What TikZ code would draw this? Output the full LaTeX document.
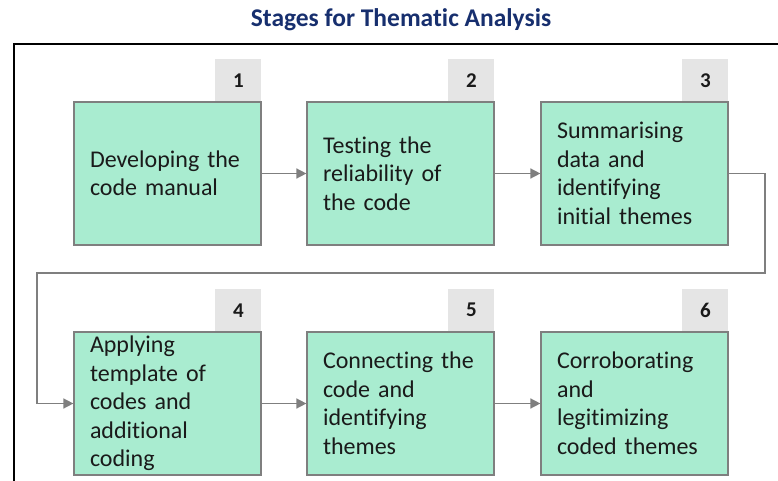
\documentclass[tikz,border=0pt]{standalone}
\usepackage{fontspec}
\setmainfont[Ligatures=CommonOff]{Carlito}
\usetikzlibrary{arrows.meta,positioning}
\definecolor{stagefill}{HTML}{A9ECD0}
\definecolor{stageline}{HTML}{7F7F7F}
\definecolor{tabfill}{HTML}{E5E5E5}
\definecolor{titleblue}{HTML}{172F6E}
\definecolor{stagetext}{HTML}{1A1A1A}
\tikzset{
  stagebox/.style={draw=stageline, line width=1.2pt, fill=stagefill,
    minimum width=187pt, minimum height=143pt, inner xsep=16pt, inner ysep=0pt,
    text width=155pt, align=left, text=stagetext,
    font=\fontsize{24}{28.5}\selectfont},
  stagetab/.style={fill=tabfill, minimum width=46pt, minimum height=42pt,
    inner sep=0pt, font=\fontsize{21}{24}\selectfont\bfseries, text=stagetext,
    anchor=south east},
  flow/.style={draw=stageline, line width=1.5pt,
    -{Triangle[length=10pt,width=10pt]}}
}
\begin{document}
\begin{tikzpicture}[x=1pt,y=-1pt]
\useasboundingbox (0,0) rectangle (778,481);
% title and frame
\node[font=\fontsize{25.5}{28}\selectfont\bfseries, text=titleblue] (title) at (401,20) {Stages for Thematic Analysis};
\draw[line width=1.6pt] (778,44) -- (14,44) -- (14,481);
% stage boxes
\node[stagebox] (b1) at (167.5,173.5) {Developing the\\code manual};
\node[stagebox] (b2) at (400.5,173.5) {Testing the\\reliability of\\the code};
\node[stagebox] (b3) at (634.5,173.5) {Summarising\\data and\\identifying\\initial themes};
\node[stagebox] (b4) at (167.5,403.5) {Applying\\template of\\codes and\\additional\\coding};
\node[stagebox] (b5) at (400.5,403.5) {Connecting the\\code and\\identifying\\themes};
\node[stagebox] (b6) at (634.5,403.5) {Corroborating\\and\\legitimizing\\coded themes};
% number tabs
\foreach \i in {1,...,6}
  \node[stagetab] (t\i) at (b\i.north east) {\i};
% connectors
\draw[flow] (b1) -- (b2);
\draw[flow] (b2) -- (b3);
\coordinate (turnr) at (765,273);
\coordinate (turnl) at (37,273);
\draw[flow] (b3.east) -| (turnr) -- (turnl) |- (b4.west);
\draw[flow] (b4) -- (b5);
\draw[flow] (b5) -- (b6);
\end{tikzpicture}
\end{document}
